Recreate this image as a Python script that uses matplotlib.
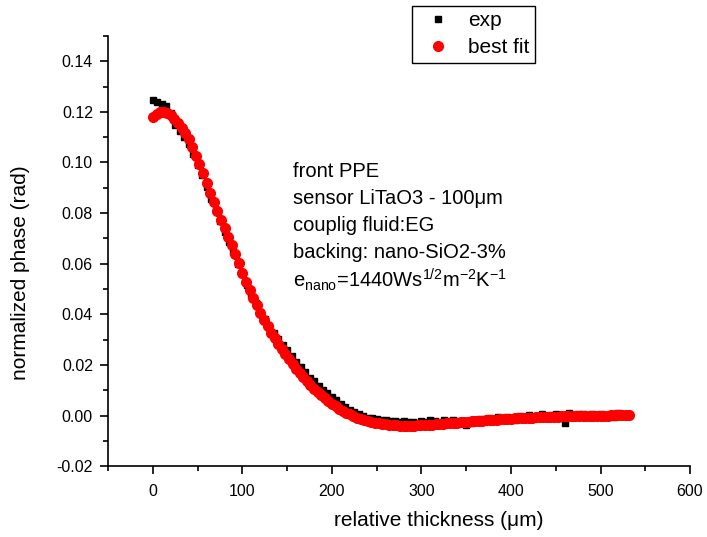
import numpy as np
import matplotlib
matplotlib.use('Agg')
import matplotlib.pyplot as plt
from matplotlib.ticker import MultipleLocator, FormatStrFormatter

plt.rcParams['font.family'] = ['Liberation Sans', 'DejaVu Sans']
plt.rcParams['mathtext.default'] = 'regular'

# relative thickness (um) of the measured points, 5 um steps
thickness_exp = np.arange(0, 531, 5)

# measured normalized phase (rad)
exp_phase = [
    0.1245, 0.1240, 0.1232, 0.1222, 0.1195, 0.1150, 0.1125, 0.1100, 0.1072, 0.1035,
    0.0990, 0.0950, 0.0905, 0.0855, 0.0810, 0.0770, 0.0727, 0.0685, 0.0645, 0.0600,
    0.0558, 0.0516, 0.0478, 0.0444, 0.0410, 0.0380, 0.0352, 0.0325, 0.0302, 0.0278,
    0.0258, 0.0236, 0.0212, 0.0192, 0.0172, 0.0150, 0.0135, 0.0118, 0.0100, 0.0088,
    0.0072, 0.0060, 0.0045, 0.0035, 0.0022, 0.0012, 0.0005, -0.0002, -0.0008, -0.0010,
    -0.0015, -0.0018, -0.0017, -0.0022, -0.0020, -0.0024, -0.0022, -0.0026, -0.0024, -0.0028,
    -0.0022, -0.0025, -0.0018, -0.0020, -0.0024, -0.0019, -0.0021, -0.0017, -0.0022, -0.0030,
    -0.0038, -0.0030, -0.0018, -0.0014, -0.0020, -0.0008, -0.0012, -0.0006, -0.0010, -0.0004,
    -0.0014, -0.0018, -0.0003, -0.0008, 0.0002, -0.0006, -0.0002, 0.0004, -0.0008, 0.0003,
    0.0006, -0.0010, -0.0030, 0.0008, 0.0002, 0.0006, 0.0004, -0.0004, 0.0006, 0.0002,
    0.0007, -0.0006, 0.0003, -0.0005, 0.0009, -0.0003, 0.0004,
]

# relative thickness (um) of the fit points, 4 um steps
thickness_fit = np.arange(0, 533, 4)

# best fit curve
fit_phase = [
    0.1180, 0.1192, 0.1200, 0.1201, 0.1196, 0.1187, 0.1172, 0.1155, 0.1135, 0.1115,
    0.1094, 0.1060, 0.1027, 0.0993, 0.0957, 0.0920, 0.0880, 0.0844, 0.0808, 0.0773,
    0.0742, 0.0706, 0.0675, 0.0640, 0.0603, 0.0565, 0.0529, 0.0495, 0.0464, 0.0435,
    0.0404, 0.0378, 0.0353, 0.0328, 0.0305, 0.0283, 0.0262, 0.0243, 0.0224, 0.0205,
    0.0185, 0.0167, 0.0151, 0.0136, 0.0121, 0.0106, 0.0093, 0.0080, 0.0068, 0.0057,
    0.0046, 0.0036, 0.0027, 0.0019, 0.0011, 0.0004, -0.0003, -0.0008, -0.0013, -0.0018,
    -0.0022, -0.0025, -0.0029, -0.0031, -0.0033, -0.0035, -0.0037, -0.0038, -0.0039, -0.0040,
    -0.0040, -0.0040, -0.0040, -0.0040, -0.0039, -0.0038, -0.0038, -0.0037, -0.0036, -0.0035,
    -0.0034, -0.0033, -0.0031, -0.0030, -0.0029, -0.0028, -0.0027, -0.0025, -0.0024, -0.0023,
    -0.0022, -0.0021, -0.0020, -0.0018, -0.0017, -0.0016, -0.0016, -0.0015, -0.0014, -0.0013,
    -0.0012, -0.0011, -0.0011, -0.0010, -0.0009, -0.0009, -0.0008, -0.0007, -0.0007, -0.0006,
    -0.0006, -0.0005, -0.0004, -0.0004, -0.0003, -0.0003, -0.0003, -0.0002, -0.0002, -0.0002,
    -0.0001, -0.0001, -0.0001, -0.0001, 0.0000, 0.0000, 0.0000, 0.0000, 0.0001, 0.0001,
    0.0001, 0.0001, 0.0001, 0.0001,
]

info_lines = [
    'front PPE',
    'sensor LiTaO3 - 100\u03bcm',
    'couplig fluid:EG',
    'backing: nano-SiO2-3%',
    r'e$_{nano}$=1440Ws$^{1/2}$m$^{-2}$K$^{-1}$',
]

fig = plt.figure(figsize=(7.07, 5.37), dpi=100)
ax = fig.add_axes([0.153, 0.132, 0.823, 0.801])

ax.plot(thickness_exp, exp_phase, 's', color='black', markersize=5, label='exp')
ax.plot(thickness_fit, fit_phase, 'o', color='red', markersize=7, label='best fit')

ax.set_xlim(-50, 600)
ax.set_ylim(-0.02, 0.15)
ax.xaxis.set_major_locator(MultipleLocator(100))
ax.xaxis.set_minor_locator(MultipleLocator(50))
ax.yaxis.set_major_locator(MultipleLocator(0.02))
ax.yaxis.set_minor_locator(MultipleLocator(0.01))
ax.yaxis.set_major_formatter(FormatStrFormatter('%.2f'))

ax.spines['top'].set_visible(False)
ax.spines['right'].set_visible(False)
ax.spines['left'].set_linewidth(1.2)
ax.spines['bottom'].set_linewidth(1.2)
ax.tick_params(which='major', direction='out', length=6, width=1.2, labelsize=11.5)
ax.tick_params(which='minor', direction='out', length=3.5, width=1.2)
ax.tick_params(axis='x', which='major', pad=7)
ax.tick_params(axis='y', which='major', pad=5)

ax.set_xlabel('relative thickness (\u03bcm)', fontsize=15)
ax.set_ylabel('normalized phase (rad)', fontsize=15)
ax.xaxis.set_label_coords(0.569, -0.105)
ax.yaxis.set_label_coords(-0.134, 0.45)

for i, line in enumerate(info_lines):
    ax.text(157, 0.0964 - i * 0.0107, line, fontsize=14.5, va='center', ha='left')

leg = ax.legend(loc='upper left', bbox_to_anchor=(0.583, 0.989),
                bbox_transform=fig.transFigure, borderaxespad=0, fontsize=15,
                fancybox=False, edgecolor='black', framealpha=1,
                handlelength=2.0, handletextpad=0.45, borderpad=0.25,
                labelspacing=0.4)
leg.get_frame().set_linewidth(1.0)

fig.savefig('out.png', dpi=100)
